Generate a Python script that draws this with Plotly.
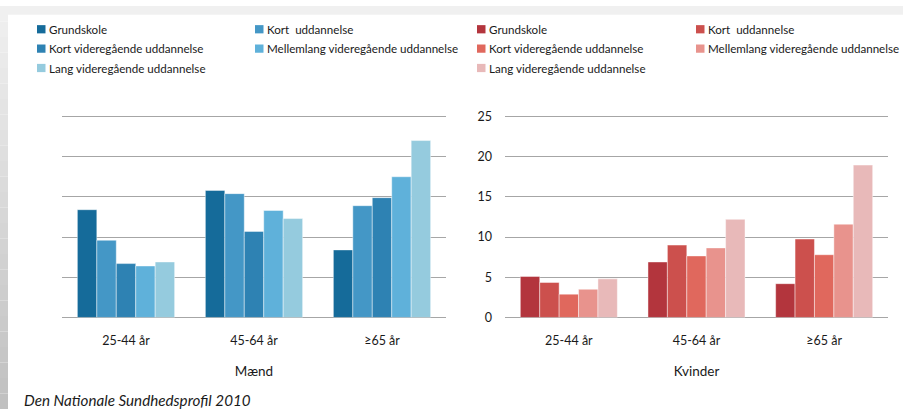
import plotly.graph_objects as go

W, H = 903, 416

age_groups = ["25-44 år", "45-64 år", "≥65 år"]
education = ["Grundskole", "Kort  uddannelse", "Kort videregående uddannelse",
             "Mellemlang videregående uddannelse", "Lang videregående uddannelse"]

# values per education level, across age groups
maend = {
    "Grundskole": [13.4, 15.8, 8.4],
    "Kort  uddannelse": [9.6, 15.4, 13.9],
    "Kort videregående uddannelse": [6.7, 10.7, 14.9],
    "Mellemlang videregående uddannelse": [6.4, 13.3, 17.5],
    "Lang videregående uddannelse": [6.9, 12.3, 22.0],
}
kvinder = {
    "Grundskole": [5.1, 6.9, 4.2],
    "Kort  uddannelse": [4.35, 9.0, 9.75],
    "Kort videregående uddannelse": [2.9, 7.65, 7.8],
    "Mellemlang videregående uddannelse": [3.5, 8.65, 11.6],
    "Lang videregående uddannelse": [4.8, 12.2, 18.95],
}
y_ticks = [0, 5, 10, 15, 20, 25]

blue = ["#156b9a", "#4497c6", "#2e82b3", "#5fb1da", "#95cbde"]
red = ["#b3353d", "#cc504d", "#e0685d", "#e8938d", "#e8b9b9"]

FONT = "Lato"
TXT = "#1a1a1a"

fig = go.Figure()
for i, name in enumerate(education):
    fig.add_trace(go.Bar(x=age_groups, y=maend[name], name=name, marker_color=blue[i],
                         marker_line=dict(color="rgba(255,255,255,0.55)", width=0.8),
                         xaxis="x", yaxis="y", showlegend=False))
for i, name in enumerate(education):
    fig.add_trace(go.Bar(x=age_groups, y=kvinder[name], name=name, marker_color=red[i],
                         marker_line=dict(color="rgba(255,255,255,0.55)", width=0.8),
                         xaxis="x2", yaxis="y2", showlegend=False))

Y_MAX = 25.15
px_per_unit = (321.5 - 114) / 25
ydom = [1 - 321.5 / H, 1 - (321.5 - Y_MAX * px_per_unit) / H]
axis_common = dict(showgrid=False, showline=False, ticks="", ticklabelstandoff=14,
                   tickfont=dict(family=FONT, size=12.5, color=TXT))
yaxis_common = dict(range=[0, Y_MAX], tickvals=y_ticks, showgrid=True, gridcolor="#a6a6a6", gridwidth=1.3,
                    zeroline=True, zerolinecolor="#a6a6a6", zerolinewidth=1.3, showline=False, ticks="",
                    domain=ydom, tickfont=dict(family=FONT, size=12.5, color=TXT), fixedrange=True)

fig.update_layout(
    width=W, height=H,
    margin=dict(l=0, r=0, t=0, b=0),
    paper_bgcolor="white", plot_bgcolor="white",
    barmode="group", bargap=0.24, bargroupgap=0,
    font=dict(family=FONT, color=TXT),
    xaxis=dict(domain=[62 / W, 446 / W], anchor="y", **axis_common,
               title=dict(text="Mænd", font=dict(family=FONT, size=13.5, color=TXT), standoff=19)),
    xaxis2=dict(domain=[505 / W, 888 / W], anchor="y2", **axis_common,
                title=dict(text="Kvinder", font=dict(family=FONT, size=13.5, color=TXT), standoff=19)),
    yaxis=dict(anchor="x", showticklabels=False, **yaxis_common),
    yaxis2=dict(anchor="x2", showticklabels=True, ticklabelstandoff=12, **yaxis_common),
)

shapes = []
# background frame: top strip and left gradient strip
shapes.append(dict(type="rect", xref="paper", yref="paper", x0=0, x1=1, y0=1 - 9 / H, y1=1,
                   fillcolor="#f0f0f0", line_width=0, layer="below"))
steps = 26
for s in range(steps):
    t = s / (steps - 1)
    g = int(round(0xf0 + (0xc0 - 0xf0) * t))
    col = f"rgb({g},{g},{g})"
    y0 = s * H / steps
    y1 = (s + 1) * H / steps
    shapes.append(dict(type="rect", xref="paper", yref="paper", x0=0, x1=8 / W,
                       y0=1 - y1 / H, y1=1 - y0 / H, fillcolor=col, line_width=0, layer="below"))

annotations = []
# legends (two columns, three rows, per panel)
legend_specs = [(37, 218, blue), (477, 219, red)]
row_y = [24, 44, 64]
sq = 8.5
for base_x, col_dx, colors in legend_specs:
    for i, name in enumerate(education):
        r, c = divmod(i, 2)
        x0 = base_x + c * col_dx
        yc = row_y[r]
        shapes.append(dict(type="rect", xref="paper", yref="paper",
                           x0=x0 / W, x1=(x0 + sq) / W,
                           y0=1 - (yc + sq / 2) / H, y1=1 - (yc - sq / 2) / H,
                           fillcolor=colors[i], line_width=0))
        annotations.append(dict(text=name, xref="paper", yref="paper", x=(x0 + sq + 1.5) / W,
                                y=1 - yc / H, xanchor="left", yanchor="middle", showarrow=False,
                                font=dict(family=FONT, size=11.6, color=TXT)))

annotations.append(dict(text="<i>Den Nationale Sundhedsprofil 2010</i>", xref="paper", yref="paper",
                        x=22 / W, y=1 - 407 / H, xanchor="left", yanchor="middle", showarrow=False,
                        font=dict(family=FONT, size=15.2, color=TXT)))

fig.update_layout(shapes=shapes, annotations=annotations)
fig.write_html("out.html", config={"displayModeBar": False},
               post_script="document.body.style.margin='0';document.body.style.overflow='hidden';")
